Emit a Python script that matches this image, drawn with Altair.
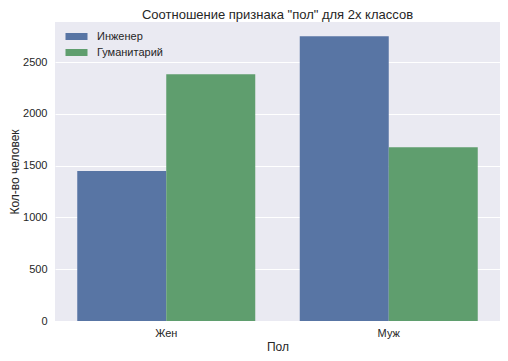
import altair as alt
import pandas as pd

genders = ["Жен", "Жен", "Муж", "Муж"]
classes = ["Инженер", "Гуманитарий", "Инженер", "Гуманитарий"]
counts = [1448, 2384, 2751, 1678]

class_order = ["Инженер", "Гуманитарий"]
colors = ["#5875A4", "#5F9E6E"]

df = pd.DataFrame({"Пол": genders, "Класс": classes, "Кол-во": counts})

FONT = "Liberation Sans"

chart = alt.Chart(df).mark_bar().encode(
    x=alt.X("Пол:N", title="Пол",
            scale=alt.Scale(paddingInner=0.2, paddingOuter=0.1),
            axis=alt.Axis(labelAngle=0, grid=False, ticks=False, domain=False,
                          labelPadding=6, titlePadding=3)),
    xOffset=alt.XOffset("Класс:N", sort=class_order,
                        scale=alt.Scale(paddingInner=0, paddingOuter=0)),
    y=alt.Y("Кол-во:Q", title="Кол-во человек",
            scale=alt.Scale(domain=[0, 2887.5], nice=False),
            axis=alt.Axis(values=[0, 500, 1000, 1500, 2000, 2500], ticks=False,
                          format="d",
                          domain=False, gridColor="white", gridWidth=1,
                          labelPadding=8, titlePadding=1)),
    color=alt.Color("Класс:N", sort=class_order,
                    scale=alt.Scale(domain=class_order, range=colors),
                    legend=alt.Legend(title=None, orient="none",
                                      legendX=16, legendY=9,
                                      symbolType="M-2,-0.64H2V0.64H-2Z",
                                      symbolSize=121, symbolStrokeWidth=0,
                                      symbolOpacity=1,
                                      labelFontSize=11, labelColor="#262626",
                                      labelFont=FONT, rowPadding=4,
                                      labelOffset=15)),
).properties(
    width=445,
    height=299,
    autosize=alt.AutoSizeParams(type="none"),
    padding={"left": 47, "top": 14, "right": 0, "bottom": 31},
    title=alt.TitleParams('Соотношение признака "пол" для 2х классов',
                          fontSize=13, font=FONT, fontWeight="normal",
                          color="#262626", offset=0, anchor="middle"),
).configure_view(
    fill="#EAEAF2", stroke=None
).configure_axis(
    labelFont=FONT, titleFont=FONT, labelFontSize=11, titleFontSize=12,
    labelColor="#262626", titleColor="#262626", titleFontWeight="normal"
)

chart.save("out.html", embed_options={"renderer": "svg", "actions": False})
